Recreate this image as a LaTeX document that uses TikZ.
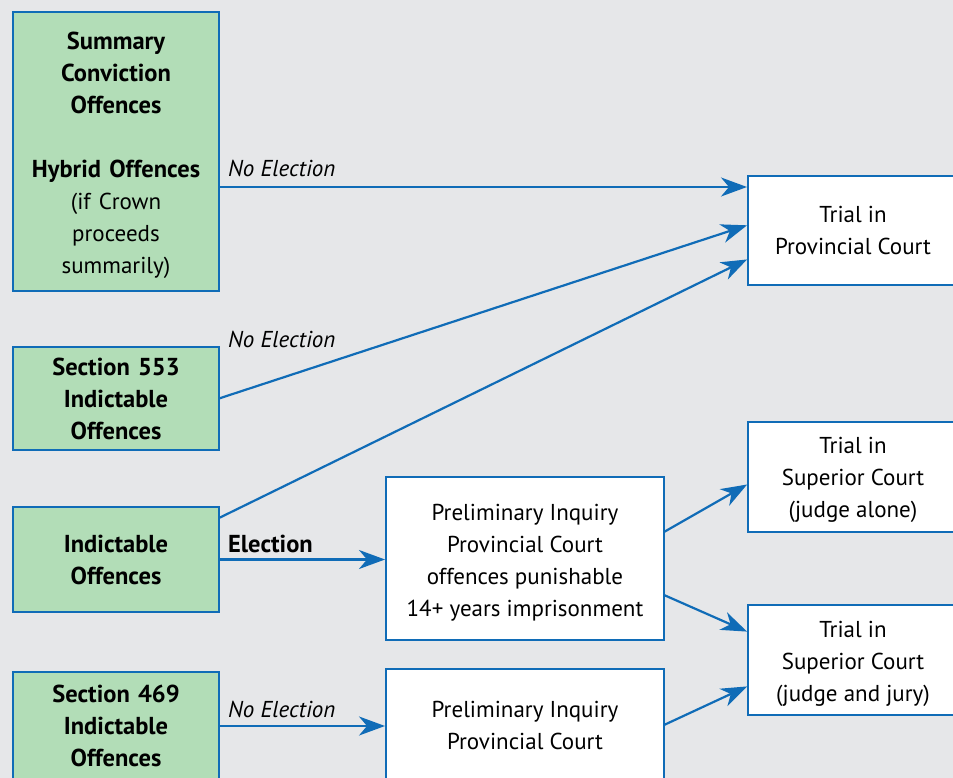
\documentclass[tikz,border=0pt]{standalone}
\usepackage{fontspec}
\setmainfont{PT Sans}
\usepackage{xcolor}
\usetikzlibrary{positioning,arrows.meta}
\definecolor{bggray}{RGB}{230,231,233}
\definecolor{offgreen}{RGB}{178,221,183}
\definecolor{lineblue}{RGB}{16,108,183}
\newcommand{\toplift}[1]{\rule{0pt}{#1}}
\tikzset{
  box/.style={
    draw=lineblue,
    line width=2.5pt,
    align=center,
    inner sep=0pt,
    outer sep=0pt,
    font=\fontsize{23}{32}\selectfont
  },
  offence/.style={
    box,
    fill=offgreen,
    minimum width=206pt,
    text width=200pt,
    font=\bfseries\fontsize{24.5}{32}\selectfont
  },
  court/.style={
    box,
    fill=white
  },
  choice/.style={
    anchor=west,
    inner sep=0pt,
    font=\itshape\fontsize{23}{26}\selectfont
  },
  flow/.style={
    -{Stealth[length=26pt,width=19pt,inset=8pt]},
    line width=2.2pt,
    lineblue,
    shorten >=1pt
  }
}

\begin{document}
\begin{tikzpicture}[x=1pt,y=1pt]

\useasboundingbox (0,0) rectangle (953,-778);
\fill[bggray] (0,0) rectangle (953,-778);

% left column: kinds of offence
\node[offence, minimum height=279pt, anchor=north west] (sco) at (13,-12) {
\toplift{25pt}Summary\\
Conviction\\
Offences\\[32pt]
Hybrid Offences\\
{\mdseries\fontsize{23}{32}\selectfont (if Crown}\\
{\mdseries\fontsize{23}{32}\selectfont proceeds}\\
{\mdseries\fontsize{23}{32}\selectfont summarily)}
};

\node[offence, minimum height=103pt, below=56pt of sco] (s553) {
Section 553\\
Indictable\\
Offences
};

\node[offence, minimum height=105pt, below=57pt of s553] (ind) {
Indictable\\
Offences
};

\node[offence, minimum height=108pt, below=60pt of ind] (s469) {
Section 469\\
Indictable\\
Offences
};

% middle column: preliminary inquiries
\node[court, minimum width=278pt, minimum height=163pt, anchor=north west] (pi1) at (386,-477) {
\toplift{24.5pt}Preliminary Inquiry\\
Provincial Court\\
offences punishable\\
14+ years imprisonment
};

\node[court, minimum width=278pt, minimum height=112pt, below=29pt of pi1] (pi2) {
Preliminary Inquiry\\
Provincial Court
};

% right column: trials
\node[court, minimum width=210pt, minimum height=109pt, anchor=north west] (tpc) at (748,-176) {
Trial in\\
Provincial Court
};

\node[court, minimum width=210pt, minimum height=110pt, below=137pt of tpc] (tsc1) {
\toplift{22.5pt}Trial in\\
Superior Court\\
(judge alone)
};

\node[court, minimum width=210pt, minimum height=110pt, below=73pt of tsc1] (tsc2) {
\toplift{24.5pt}Trial in\\
Superior Court\\
(judge and jury)
};

% elections
\node[choice] (ne1) at (228,-168) {No Election};
\node[choice] (ne2) at (228,-339) {No Election};
\node[choice, font=\bfseries\fontsize{24.5}{26}\selectfont] (el) at (228,-544) {Election};
\node[choice] (ne3) at (228,-709) {No Election};

\draw[flow] ([yshift=-35.5pt]sco.east) -- ([yshift=43.5pt]tpc.west);
\draw[flow] (s553.east) -- ([yshift=5.5pt]tpc.west);
\draw[flow] ([yshift=41.5pt]ind.east) -- ([yshift=-28.5pt]tpc.west);
\draw[flow] (ind.east) -- (ind.east -| pi1.west);
\draw[flow] (s469.east) -- (s469.east -| pi2.west);
\draw[flow] ([yshift=26.5pt]pi1.east) -- ([yshift=-7pt]tsc1.west);
\draw[flow] ([yshift=-36.5pt]pi1.east) -- ([yshift=28pt]tsc2.west);
\draw[flow] (pi2.east) -- ([yshift=-26pt]tsc2.west);

\end{tikzpicture}
\end{document}
